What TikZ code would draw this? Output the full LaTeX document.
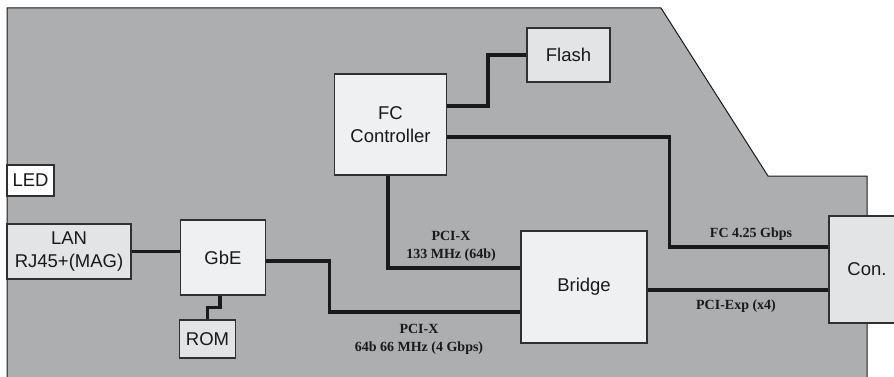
\documentclass[tikz,border=0pt]{standalone}
\usepackage{fontspec}
\setmainfont{Liberation Sans}
\newfontfamily\lblfont{Liberation Serif}
\definecolor{board}{HTML}{ADAEB0}
\definecolor{boxlight}{HTML}{EFF0F1}
\definecolor{boxmid}{HTML}{E3E4E6}
\definecolor{boxedge}{HTML}{303030}
\definecolor{wire}{HTML}{1A1A1A}
\begin{document}
\begin{tikzpicture}[x=1pt,y=-1pt,
  blk/.style={draw=boxedge,line width=1.2pt,fill=boxlight,inner sep=0pt,align=center,
     font=\fontsize{18.5}{22.5}\selectfont,text=black!90},
  blkmid/.style={blk,fill=boxmid},
  wirepath/.style={draw=wire,line width=3.5pt},
  lbl/.style={font=\lblfont\bfseries\fontsize{14}{18}\selectfont,align=center,text=black!90,inner sep=0pt}]
\useasboundingbox (0,0) rectangle (894,377);
\clip (0,0) rectangle (894,377);
% board
\path[fill=board,draw=black!90,line width=1pt]
  (7,400) -- (7,8) -- (661,8) -- (768,176) -- (867,176) -- (867,400);
% blocks
\node[blk,fill=white,minimum width=47pt,minimum height=31pt] (led) at (30.5,180.5) {LED};
\node[blkmid,minimum width=124pt,minimum height=55pt] (lan) at (69,251.5) {LAN\\RJ45+(MAG)};
\node[blk,minimum width=85pt,minimum height=75pt] (gbe) at (223,257.5) {GbE};
\node[blkmid,minimum width=56pt,minimum height=38pt] (rom) at (207.5,339) {ROM};
\node[blk,minimum width=112pt,minimum height=101pt] (fc) at (390.5,124.5) {FC\\Controller};
\node[blkmid,minimum width=83pt,minimum height=54pt] (flash) at (568.5,55) {Flash};
\node[blk,minimum width=126pt,minimum height=112pt] (bridge) at (584,287) {Bridge};
\node[blkmid,minimum width=76pt,minimum height=107pt] (con) at (867,269.5) {Con.};
% connectors
\draw[wirepath] (lan.east) -- (lan.east -| gbe.west);
\draw[wirepath] ([xshift=-3pt]gbe.south) -- ++(0,12) -| (rom.north);
\draw[wirepath] ([yshift=18.5pt]fc.east) -- ++(41,0) |- (flash.west);
\draw[wirepath] ([yshift=-12.5pt]fc.east) -- ++(222.5,0) |- ([yshift=22.5pt]con.west);
\draw[wirepath] ([xshift=-2.5pt]fc.south) |- ([yshift=19pt]bridge.west);
\draw[wirepath] ([yshift=-3.5pt]gbe.east) -- ++(63.5,0) |- ([yshift=-25pt]bridge.west);
\draw[wirepath] ([yshift=-3pt]bridge.east) -- ([yshift=-3pt]bridge.east -| con.west);
% labels
\node[lbl] (l1) at (451,246) {PCI-X\\133 MHz (64b)};
\node[lbl] (l2) at (419,339) {PCI-X\\64b 66 MHz (4 Gbps)};
\node[lbl] (l3) at (751,234) {FC 4.25 Gbps};
\node[lbl] (l4) at (736,306) {PCI-Exp (x4)};
\end{tikzpicture}
\end{document}
